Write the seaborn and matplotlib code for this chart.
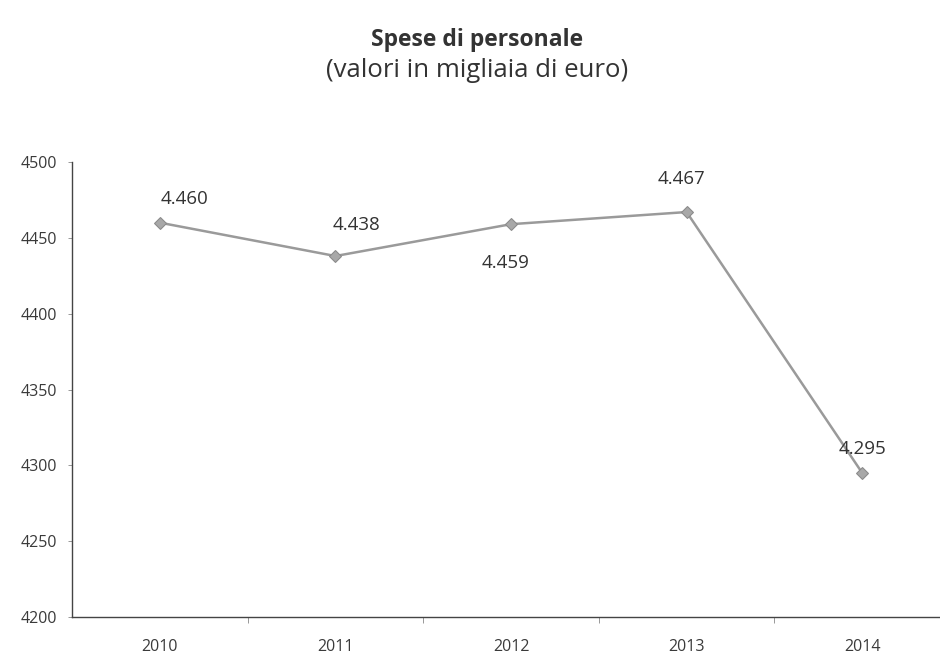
import seaborn as sns
import matplotlib.pyplot as plt
import pandas as pd

anni = ["2010", "2011", "2012", "2013", "2014"]
spese = [4460, 4438, 4459, 4467, 4295]
etichette = ["4.460", "4.438", "4.459", "4.467", "4.295"]
y_ticks = [4200, 4250, 4300, 4350, 4400, 4450, 4500]

sns.set_style("white")
plt.rcParams['font.family'] = ['Open Sans', 'DejaVu Sans']

df = pd.DataFrame({"anno": anni, "spese": spese})

fig = plt.figure(figsize=(9.4, 6.53), dpi=100)
ax = fig.add_axes([72 / 940, 36 / 653, 878 / 940, 455 / 653])

sns.lineplot(data=df, x="anno", y="spese", ax=ax, color="#9a9a9a",
             linewidth=1.8, marker="D", markersize=6,
             markerfacecolor="#a8a8a8", markeredgecolor="#8a8a8a")

ax.set_xlim(-0.5, len(anni) - 0.5)
ax.set_ylim(4200, 4500)
ax.set_yticks(y_ticks)
ax.set_xticks(range(len(anni)))
ax.set_xticklabels(anni)

# offset etichette (punti)
offs = [(18, 17), (15, 22), (-4, -28), (-4, 24), (0, 17)]
for i, (v, lab) in enumerate(zip(spese, etichette)):
    ax.annotate(lab, (i, v), xytext=offs[i], textcoords="offset points",
                ha="center", va="center", fontsize=13.5, color="#333333")

for s in ["top", "right"]:
    ax.spines[s].set_visible(False)
ax.spines["left"].set_color("#444444")
ax.spines["bottom"].set_color("#444444")
ax.spines["left"].set_linewidth(1.0)
ax.spines["bottom"].set_linewidth(1.0)

ax.tick_params(axis="y", which="major", left=True, length=3, width=0.6,
               color="#888888", labelsize=11.5, labelcolor="#3a3a3a", pad=8)
ax.tick_params(axis="x", which="major", bottom=False, labelsize=11.5,
               labelcolor="#3a3a3a", pad=12)
# tacche tra le categorie
ax.set_xticks([i + 0.5 for i in range(len(anni) - 1)], minor=True)
ax.tick_params(axis="x", which="minor", bottom=True, length=4, width=0.6,
               color="#888888")
ax.set_xlabel("")
ax.set_ylabel("")

fig.text(0.508, 0.938, "Spese di personale", ha="center", va="center",
         fontsize=16.5, fontweight="bold", color="#333333")
fig.text(0.508, 0.892, "(valori in migliaia di euro)", ha="center",
         va="center", fontsize=18.5, color="#333333")

fig.savefig("out.png", dpi=100)
plt.close()
